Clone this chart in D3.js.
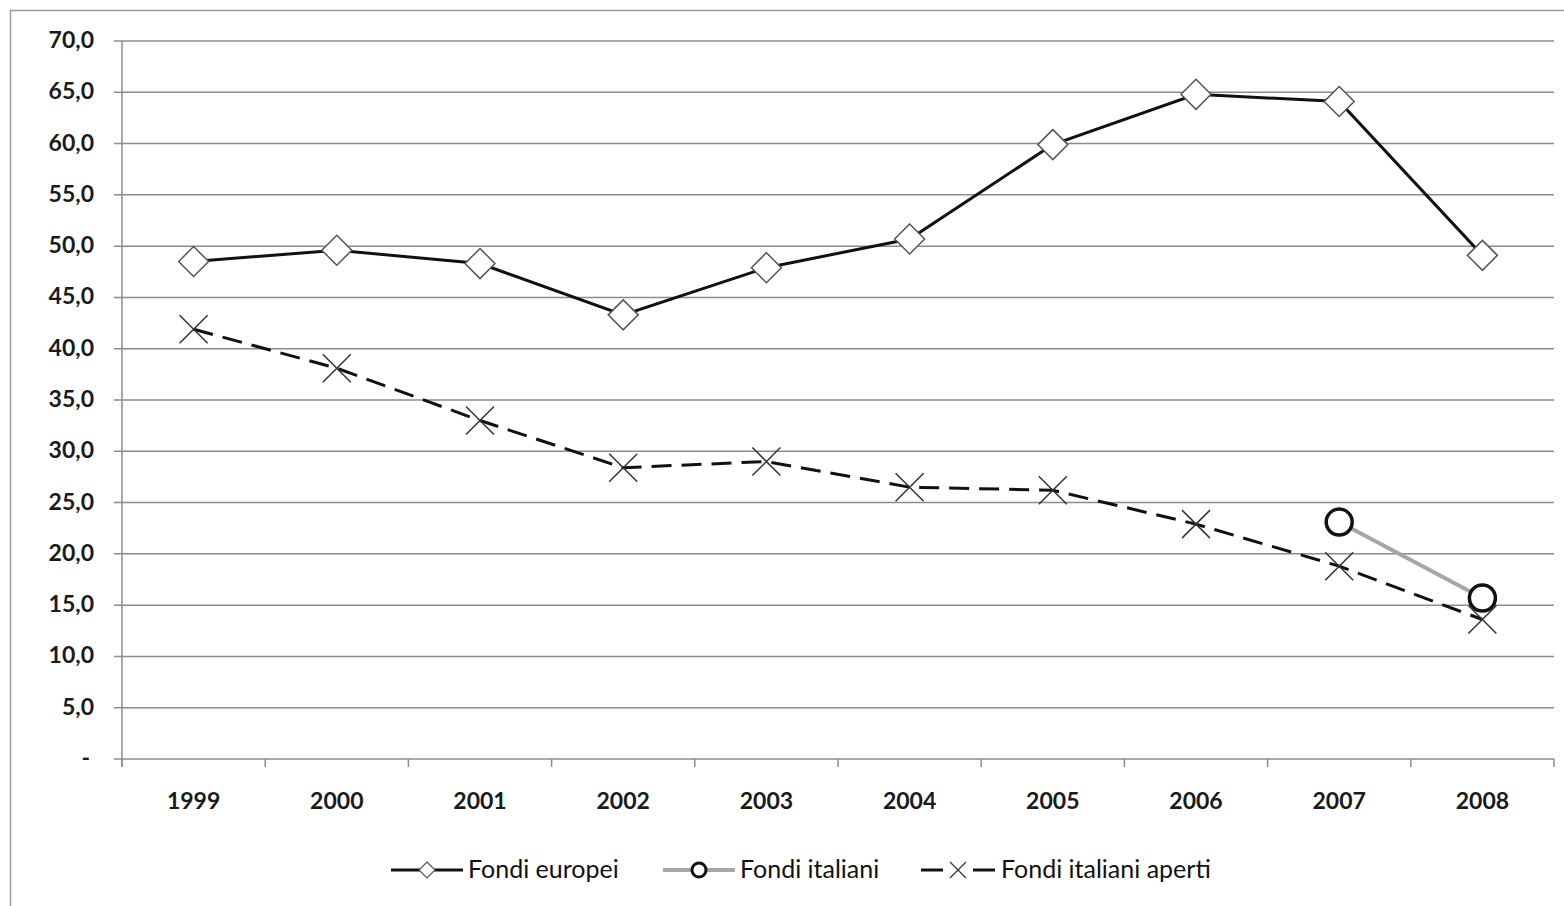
<!DOCTYPE html>
<html>
<head>
<meta charset="utf-8">
<script src="https://cdn.jsdelivr.net/npm/d3@7"></script>
<style>
  html, body { margin: 0; padding: 0; background: #fff; }
  svg { display: block; }
  .tick-label { font-family: Lato, "Open Sans", sans-serif; font-weight: 700; font-size: 23px; fill: #1a1a1a; }
  .legend-label { font-family: Lato, "Open Sans", sans-serif; font-size: 25px; fill: #111; }
</style>
</head>
<body>
<svg id="chart" width="1564" height="906"></svg>
<script>
// Categories and series values
const years = ["1999", "2000", "2001", "2002", "2003", "2004", "2005", "2006", "2007", "2008"];
const fondiEuropei = [48.5, 49.6, 48.3, 43.3, 47.9, 50.7, 59.9, 64.8, 64.1, 49.1];
const fondiItaliani = [null, null, null, null, null, null, null, null, 23.1, 15.7];
const fondiItalianiAperti = [41.9, 38.1, 33.0, 28.4, 29.0, 26.5, 26.2, 22.9, 18.8, 13.6];
const yTicks = [0, 5, 10, 15, 20, 25, 30, 35, 40, 45, 50, 55, 60, 65, 70];
const seriesNames = ["Fondi europei", "Fondi italiani", "Fondi italiani aperti"];

const svg = d3.select("#chart");

// Outer chart frame
svg.append("rect")
  .attr("x", 10.5).attr("y", 10.5)
  .attr("width", 1570).attr("height", 910)
  .attr("fill", "none").attr("stroke", "#9a9a9a").attr("stroke-width", 1.5);

const plot = { left: 122, right: 1554, top: 41, bottom: 759 };

const x = d3.scaleBand().domain(years).range([plot.left, plot.right]);
const y = d3.scaleLinear().domain([0, 70]).range([plot.bottom, plot.top]);

// Horizontal gridlines with short ticks left of the axis
const grid = svg.append("g");
grid.selectAll("line").data(yTicks).join("line")
  .attr("x1", plot.left - 8).attr("x2", plot.right)
  .attr("y1", d => y(d)).attr("y2", d => y(d))
  .attr("stroke", "#8c8c8c").attr("stroke-width", 1.5);

// Y axis line
svg.append("line")
  .attr("x1", plot.left).attr("x2", plot.left)
  .attr("y1", plot.top).attr("y2", plot.bottom + 8)
  .attr("stroke", "#8c8c8c").attr("stroke-width", 1.5);

// Y tick labels (Italian decimal comma, zero shown as a dash)
const fmt = d => d === 0 ? "-" : d3.format(".1f")(d).replace(".", ",");
svg.append("g").selectAll("text").data(yTicks).join("text")
  .attr("class", "tick-label")
  .attr("x", d => d === 0 ? 90 : 94)
  .attr("y", d => y(d) + 7)
  .attr("text-anchor", "end")
  .text(fmt);

// X tick marks at category boundaries
const boundaries = years.map(d => x(d)).concat([plot.right]);
svg.append("g").selectAll("line").data(boundaries).join("line")
  .attr("x1", d => d).attr("x2", d => d)
  .attr("y1", plot.bottom).attr("y2", plot.bottom + 8)
  .attr("stroke", "#8c8c8c").attr("stroke-width", 1.5);

// X labels
svg.append("g").selectAll("text").data(years).join("text")
  .attr("class", "tick-label")
  .attr("x", d => x(d) + x.bandwidth() / 2)
  .attr("y", 809)
  .attr("text-anchor", "middle")
  .text(d => d);

const cx = (d, i) => x(years[i]) + x.bandwidth() / 2;
const line = d3.line()
  .defined(d => d != null)
  .x((d, i) => cx(d, i))
  .y(d => y(d));

// Marker shapes
const diamondPath = s => `M0,${-s}L${s},0L0,${s}L${-s},0Z`;
const crossPath = s => `M${-s},${-s}L${s},${s}M${-s},${s}L${s},${-s}`;

function drawDiamond(g, px, py) {
  g.append("path").attr("d", diamondPath(15))
    .attr("transform", `translate(${px},${py})`)
    .attr("fill", "#fff").attr("stroke", "#555").attr("stroke-width", 1.5);
}
function drawCircle(g, px, py, r) {
  g.append("circle").attr("cx", px).attr("cy", py).attr("r", r)
    .attr("fill", "#fff").attr("stroke", "#111").attr("stroke-width", 3.5);
}
function drawCross(g, px, py, s) {
  g.append("path").attr("d", crossPath(s))
    .attr("transform", `translate(${px},${py})`)
    .attr("fill", "none").attr("stroke", "#333").attr("stroke-width", 1.5);
}

// Series: Fondi europei
const gEu = svg.append("g");
gEu.append("path").datum(fondiEuropei)
  .attr("d", line).attr("fill", "none")
  .attr("stroke", "#111").attr("stroke-width", 3);
fondiEuropei.forEach((v, i) => drawDiamond(gEu, cx(v, i), y(v)));

// Series: Fondi italiani
const gIt = svg.append("g");
gIt.append("path").datum(fondiItaliani)
  .attr("d", line).attr("fill", "none")
  .attr("stroke", "#a6a6a6").attr("stroke-width", 4);
fondiItaliani.forEach((v, i) => { if (v != null) drawCircle(gIt, cx(v, i), y(v), 13); });

// Series: Fondi italiani aperti
const gAp = svg.append("g");
gAp.append("path").datum(fondiItalianiAperti)
  .attr("d", line).attr("fill", "none")
  .attr("stroke", "#111").attr("stroke-width", 3)
  .attr("stroke-dasharray", "20,10");
fondiItalianiAperti.forEach((v, i) => drawCross(gAp, cx(v, i), y(v), 14));

// Legend
const legendY = 870;
const legend = svg.append("g");
const items = [
  { x0: 391, x1: 463, label: seriesNames[0], tx: 468 },
  { x0: 663, x1: 735, label: seriesNames[1], tx: 740 },
  { x0: 921, x1: 995, label: seriesNames[2], tx: 1001 }
];
// Fondi europei sample
legend.append("line").attr("x1", items[0].x0).attr("x2", items[0].x1)
  .attr("y1", legendY).attr("y2", legendY)
  .attr("stroke", "#111").attr("stroke-width", 3);
legend.append("path").attr("d", diamondPath(8))
  .attr("transform", `translate(${(items[0].x0 + items[0].x1) / 2},${legendY})`)
  .attr("fill", "#fff").attr("stroke", "#555").attr("stroke-width", 1.2);
// Fondi italiani sample
legend.append("line").attr("x1", items[1].x0).attr("x2", items[1].x1)
  .attr("y1", legendY).attr("y2", legendY)
  .attr("stroke", "#a6a6a6").attr("stroke-width", 4);
legend.append("circle").attr("cx", (items[1].x0 + items[1].x1) / 2).attr("cy", legendY).attr("r", 7)
  .attr("fill", "#fff").attr("stroke", "#111").attr("stroke-width", 3);
// Fondi italiani aperti sample
legend.append("line").attr("x1", items[2].x0).attr("x2", items[2].x0 + 22)
  .attr("y1", legendY).attr("y2", legendY)
  .attr("stroke", "#111").attr("stroke-width", 3);
legend.append("line").attr("x1", items[2].x1 - 22).attr("x2", items[2].x1)
  .attr("y1", legendY).attr("y2", legendY)
  .attr("stroke", "#111").attr("stroke-width", 3);
legend.append("path").attr("d", crossPath(8))
  .attr("transform", `translate(${(items[2].x0 + items[2].x1) / 2},${legendY})`)
  .attr("fill", "none").attr("stroke", "#333").attr("stroke-width", 1.2);

legend.selectAll("text").data(items).join("text")
  .attr("class", "legend-label")
  .attr("x", d => d.tx).attr("y", 878)
  .text(d => d.label);
</script>
</body>
</html>
